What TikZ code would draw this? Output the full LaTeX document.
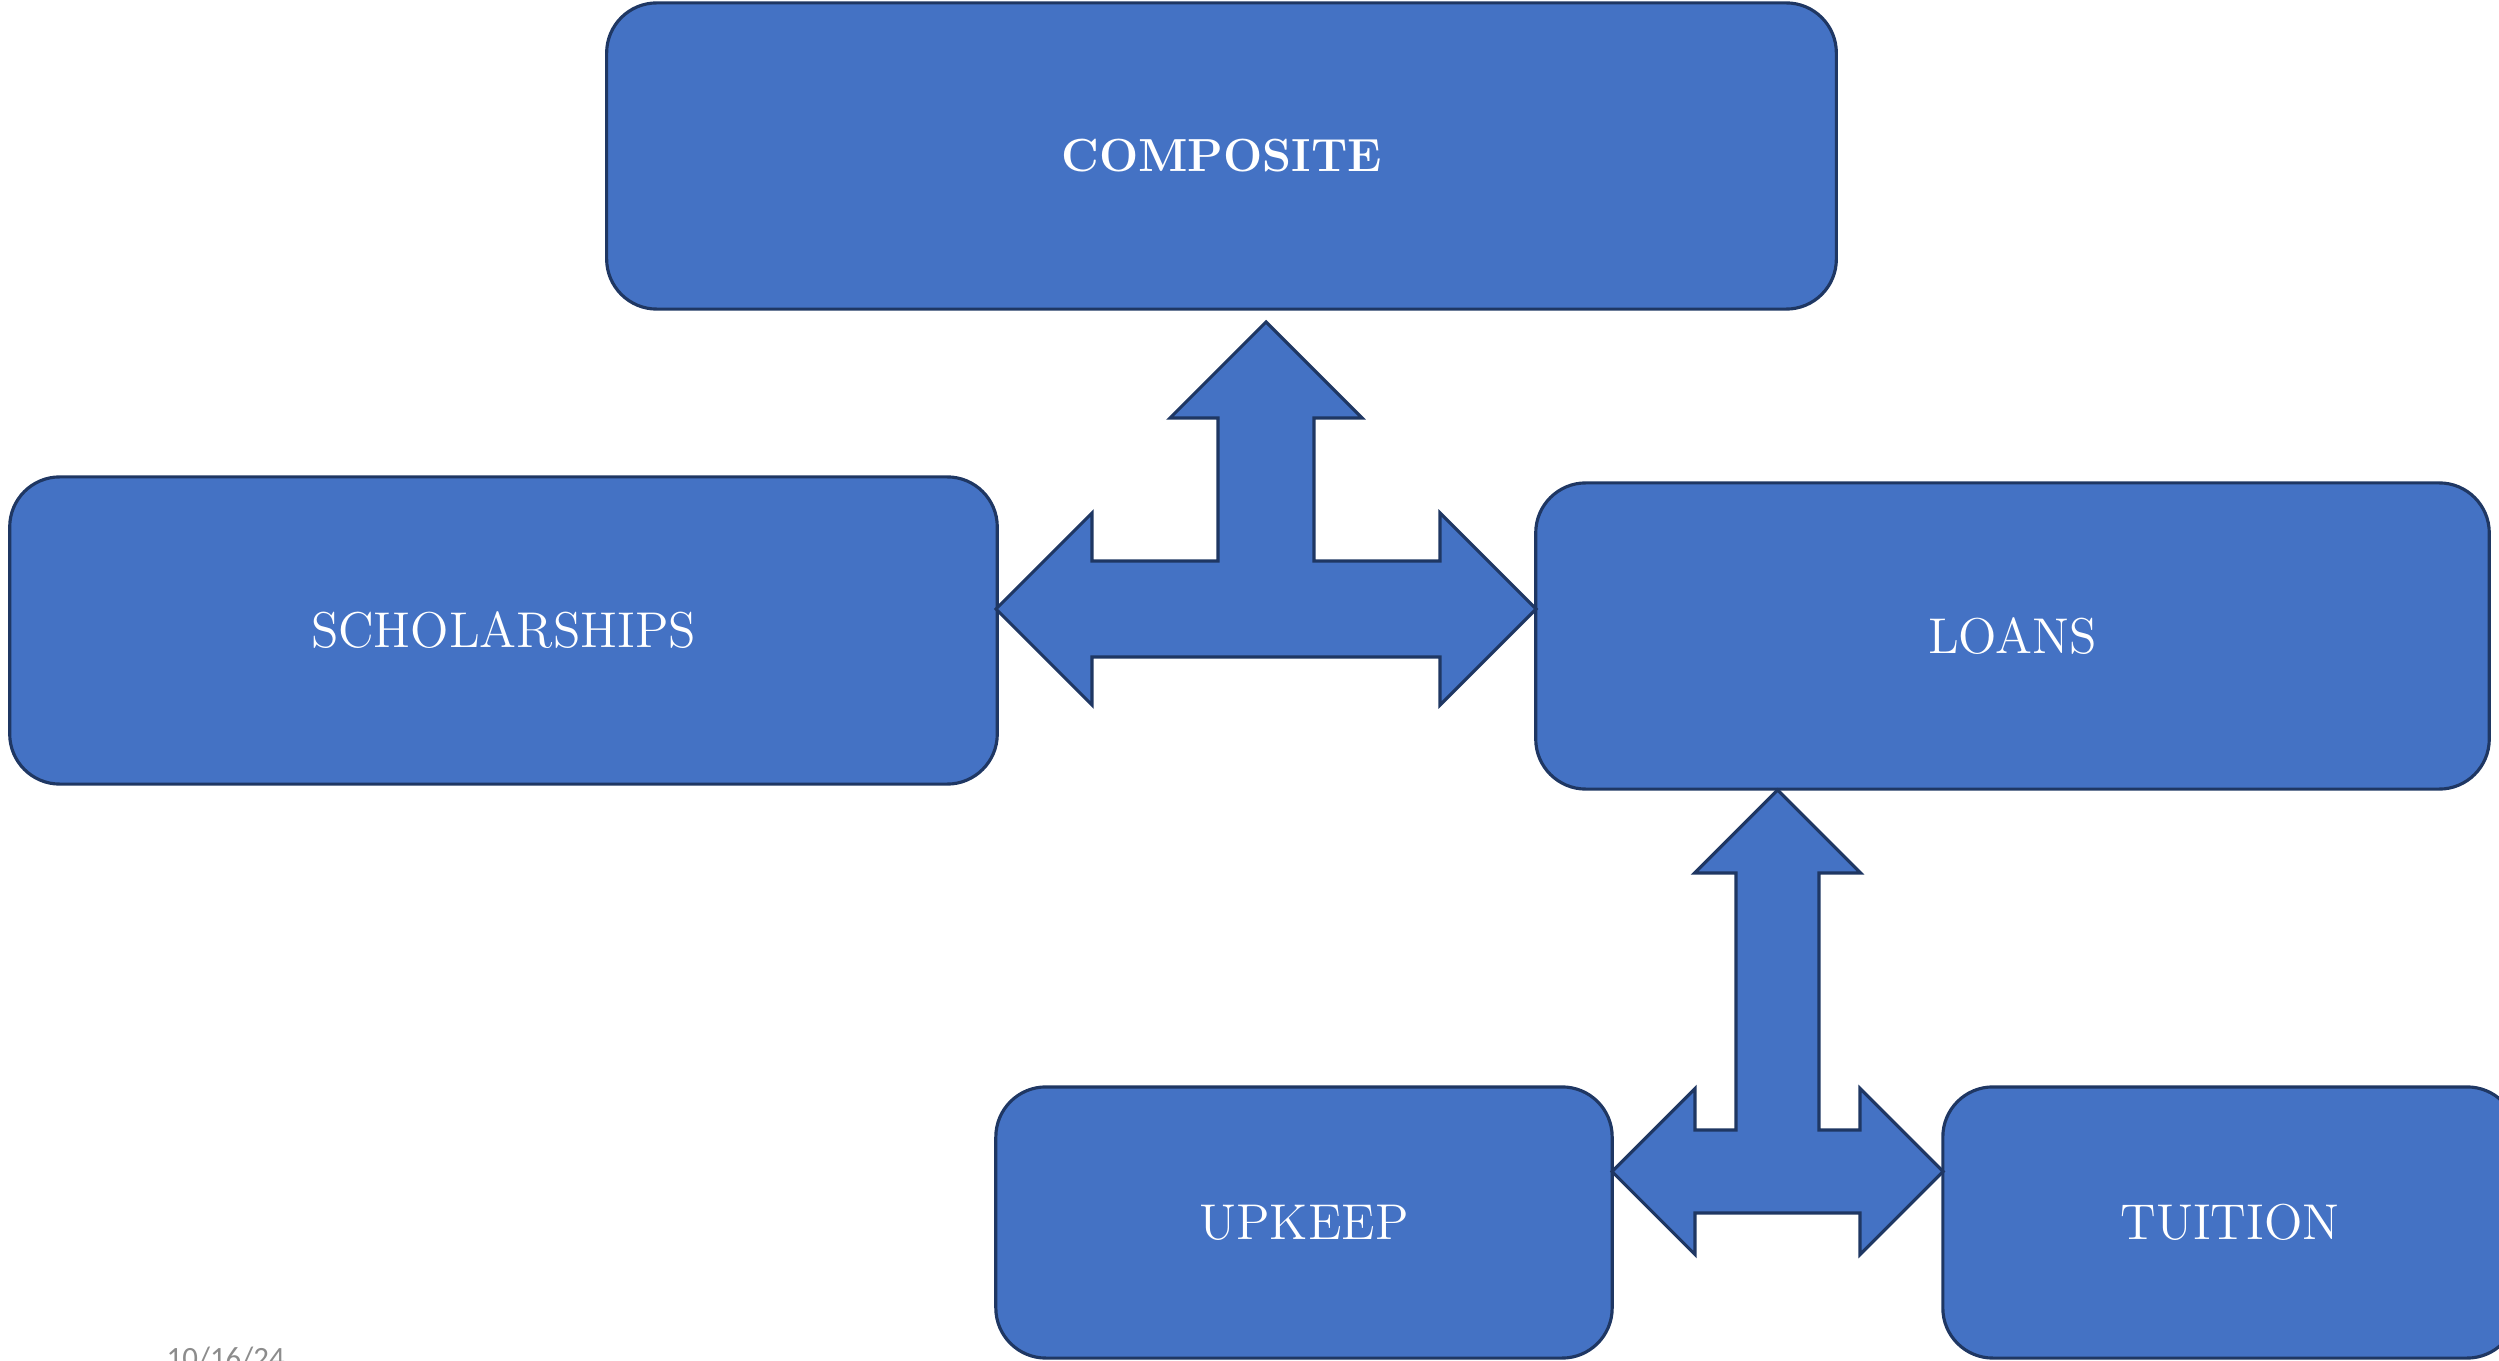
\documentclass[tikz,border=0pt]{standalone}
\usepackage{fontspec}
\newfontfamily\datefont{Carlito}
\definecolor{boxfill}{HTML}{4472C4}
\definecolor{boxline}{HTML}{1F3763}
\definecolor{datecol}{HTML}{8C8C8C}
\begin{document}
\begin{tikzpicture}[x=0.01cm,y=-0.01cm,
  box/.style={draw=boxline, fill=boxfill, line width=0.9pt, rounded corners=0.5cm,
    text=white, font=\fontsize{14.3}{16}\selectfont, inner sep=0pt},
  blockarrow/.style={draw=boxline, fill=boxfill, line width=0.9pt, line join=miter}]
\useasboundingbox (0,0) rectangle (2499,1361);
\clip (0,0) rectangle (2499,1361);

% boxes
\node[box, minimum width=12.29cm, minimum height=3.06cm, font=\fontsize{13.2}{16}\selectfont\bfseries] (comp) at (1221.5,156) {COMPOSITE};
\node[box, minimum width=9.87cm, minimum height=3.07cm] (schol) at (503.5,630.5) {SCHOLARSHIPS};
\node[box, minimum width=9.53cm, minimum height=3.06cm] (loans) at (2012.5,636) {LOANS};
\node[box, minimum width=6.16cm, minimum height=2.71cm] (upkeep) at (1304,1222.5) {UPKEEP};
\node[box, minimum width=5.74cm, minimum height=2.71cm] (tuition) at (2230,1222.5) {TUITION};

% date
\node[anchor=base west, text=datecol, font=\datefont\fontsize{8.8}{10}\selectfont, inner sep=0pt] (date) at (166,1368) {10/16/24};

% upper three-way block arrow (scholarships / composite / loans)
\coordinate (a1l) at (996,609);
\coordinate (a1r) at (1536,609);
\coordinate (a1u) at (1266,322);
\draw[blockarrow] (a1l) -- ++(96,-96) -- ++(0,48) -- (1218,561) -- (1218,418)
  -- ++(-48,0) -- (a1u) -- (1362,418) -- ++(-48,0) -- (1314,561) -- (1440,561)
  -- ++(0,-48) -- (a1r) -- (1440,705) -- ++(0,-48) -- (1092,657) -- ++(0,48) -- cycle;

% lower three-way block arrow (upkeep / loans / tuition)
\coordinate (a2l) at (1612,1171.5);
\coordinate (a2r) at (1943,1171.5);
\coordinate (a2u) at (1777.5,790);
\draw[blockarrow] (a2l) -- ++(83,-83) -- ++(0,41.5) -- (1736,1130) -- (1736,873)
  -- ++(-41.5,0) -- (a2u) -- (1860.5,873) -- ++(-41.5,0) -- (1819,1130) -- (1860,1130)
  -- ++(0,-41.5) -- (a2r) -- (1860,1254.5) -- ++(0,-41.5) -- (1695,1213) -- ++(0,41.5) -- cycle;
\end{tikzpicture}
\end{document}
